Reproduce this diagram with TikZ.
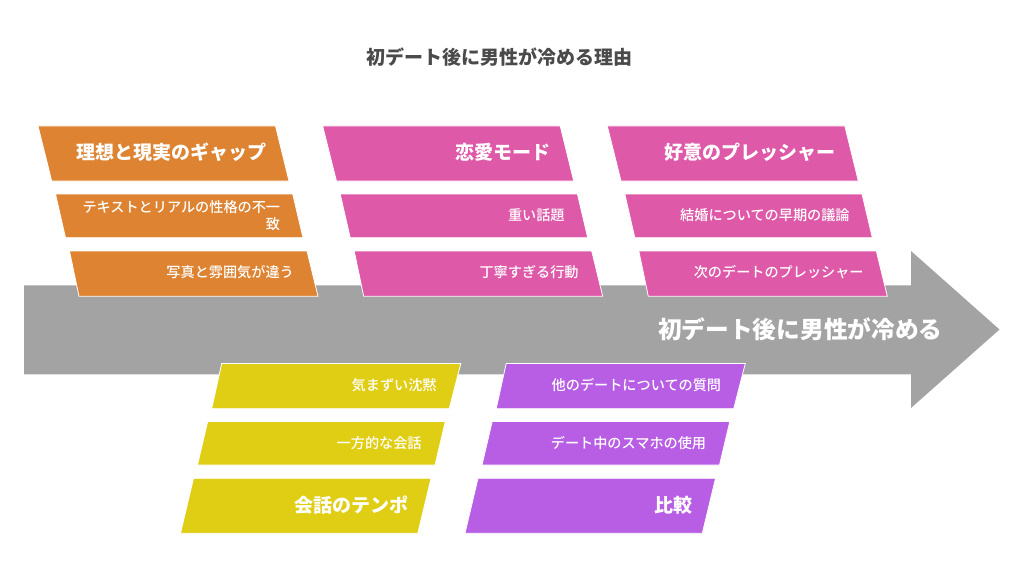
\documentclass[tikz,border=0pt]{standalone}
\usepackage{fontspec}
\setmainfont{Noto Sans CJK JP}
\newfontfamily\medfont{Noto Sans CJK JP Medium}
\definecolor{cOrange}{HTML}{DD8331}
\definecolor{cPink}{HTML}{DE59A8}
\definecolor{cYellow}{HTML}{E0CE15}
\definecolor{cPurple}{HTML}{B85EE4}
\definecolor{cArrow}{HTML}{A3A3A3}
\definecolor{cTitle}{HTML}{4A4A4A}
\tikzset{
  panel/.style={fill=#1,draw=white,line width=0.8pt,line join=miter},
  headtext/.style={text=white,anchor=east,inner sep=0pt,font=\fontsize{19}{23}\selectfont\bfseries},
  itemtext/.style={text=white,anchor=east,inner sep=0pt,align=right,font=\fontsize{14.15}{17}\selectfont\medfont},
  arrowtext/.style={text=white,anchor=east,inner sep=0pt,font=\fontsize{23.7}{28}\selectfont\bfseries},
  titletext/.style={text=cTitle,inner sep=0pt,font=\fontsize{19}{23}\selectfont\bfseries},
}
% #1 colour, #2 top-left x, #3 top-right x, #4 bottom-right x, #5 bottom-left x, #6 top y, #7 bottom y
\newcommand{\para}[7]{\path[panel=#1] (#2,#6) -- (#3,#6) -- (#4,#7) -- (#5,#7) -- cycle;}
\begin{document}
\begin{tikzpicture}[x=1pt,y=-1pt]
\useasboundingbox (0,0) rectangle (1024,580);
\node[titletext] (title) at (499,57.5) {初デート後に男性が冷める理由};
% spine arrow
\path[fill=cArrow] (24,285.3) -- (911,285.3) -- (911,251) -- (999.5,329.5) -- (911,408) -- (911,374.3) -- (24,374.3) -- cycle;
\node[arrowtext] (spine) at (942.7,329) {初デート後に男性が冷める};
% column 1
\para{cOrange}{38}{275.5}{289}{51.7}{126}{181}
\para{cOrange}{55.5}{292.7}{303}{65.5}{194}{237.7}
\para{cOrange}{69.5}{307}{318}{79}{251}{296.3}
\node[headtext] (h1) at (266.5,152.7) {理想と現実のギャップ};
\node[itemtext] (a1) at (280.3,215.5) {テキストとリアルの性格の不一\\致};
\node[itemtext] (a2) at (294,272) {写真と雰囲気が違う};
% column 2
\para{cPink}{322.7}{560.2}{573.7}{336.4}{126}{181}
\para{cPink}{340.2}{577.4}{587.7}{350.2}{194}{237.7}
\para{cPink}{354.2}{591.7}{602.7}{363.7}{251}{296.3}
\node[headtext] (h2) at (550.5,152.7) {恋愛モード};
\node[itemtext] (b1) at (564.8,215) {重い話題};
\node[itemtext] (b2) at (578.8,272) {丁寧すぎる行動};
% column 3
\para{cPink}{607.3}{844.8}{858.3}{621}{126}{181}
\para{cPink}{624.8}{862}{872.3}{634.8}{194}{237.7}
\para{cPink}{638.8}{876.3}{887.3}{648.3}{251}{296.3}
\node[headtext] (h3) at (835.5,152.7) {好意のプレッシャー};
\node[itemtext] (c1) at (849.8,215) {結婚についての早期の議論};
\node[itemtext] (c2) at (863.8,272) {次のデートのプレッシャー};
% lower yellow
\para{cYellow}{221.7}{460.8}{449.2}{211.7}{363.5}{408.7}
\para{cYellow}{207.7}{445.3}{435}{197.5}{421.5}{465}
\para{cYellow}{193.5}{431}{417.8}{180.5}{478.3}{533.3}
\node[itemtext] (d1) at (436.8,385.3) {気まずい沈黙};
\node[itemtext] (d2) at (421.8,442.8) {一方的な会話};
\node[headtext] (h4) at (408.8,505.5) {会話のテンポ};
% lower purple
\para{cPurple}{506.2}{745.3}{733.7}{496.2}{363.5}{408.7}
\para{cPurple}{492.2}{729.8}{719.5}{482}{421.5}{465}
\para{cPurple}{478}{715.5}{702.3}{465}{478.3}{533.3}
\node[itemtext] (e1) at (721.3,385.3) {他のデートについての質問};
\node[itemtext] (e2) at (706.3,442.8) {デート中のスマホの使用};
\node[headtext] (h5) at (692.5,505.5) {比較};
\end{tikzpicture}
\end{document}
